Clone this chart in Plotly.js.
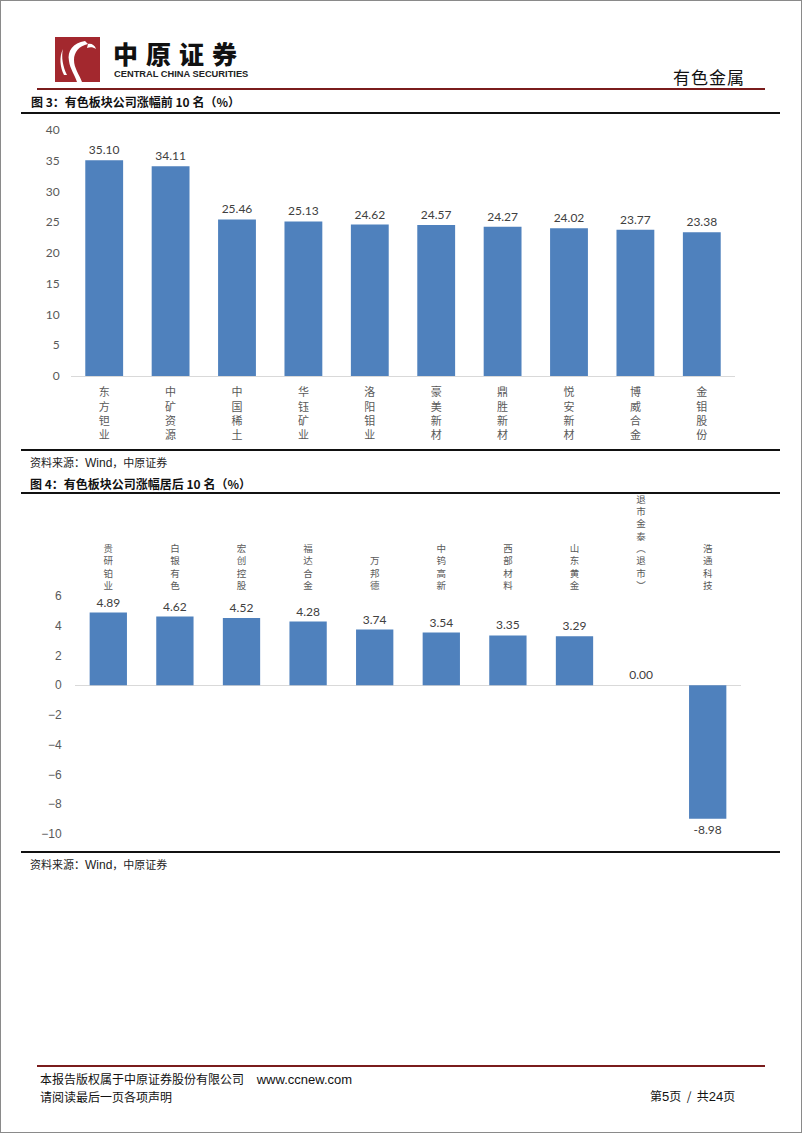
<!DOCTYPE html>
<html><head><meta charset="utf-8">
<script src="https://cdn.plot.ly/plotly-3.0.1.min.js"></script>
<style>
html,body{margin:0;padding:0;background:#fff;}
body{width:802px;height:1133px;position:relative;overflow:hidden;font-family:"Noto Sans CJK SC",sans-serif;}
#frame{position:absolute;left:0;top:0;width:802px;height:1133px;box-sizing:border-box;border:1px solid #8a8a8a;pointer-events:none;z-index:5;}
.abs{position:absolute;white-space:nowrap;}
.redline{position:absolute;height:2px;background:#7a1c1c;}
.blackline{position:absolute;height:2px;background:#111;}
.ttl{font-size:12px;font-weight:bold;color:#111;}
.src{font-size:11px;color:#222;}
#c1{position:absolute;left:0;top:118px;width:802px;height:332px;}
#c2{position:absolute;left:0;top:470px;width:802px;height:380px;}
</style></head>
<body>
<div id="frame"></div>
<svg class="abs" style="left:55px;top:37px;" width="45" height="45" viewBox="0 0 45 45">
 <rect x="0" y="0" width="45" height="45" fill="#a3282e"/>
 <path d="M30 4 C18 6 12 14 14 24 C15 32 20 38 22 45 L27 45 C24 37 19 31 19 23 C19 15 24 9 33 7 Z" fill="#fff"/>
 <path d="M33 7 C36 6 40 8 41 12 C38 10 35 10 32 11 Z" fill="#fff"/>
 <path d="M8 12 C6 20 8 30 12 38 L9 38 C5 30 4 20 8 12 Z" fill="#fff"/>
</svg>
<div class="abs" style="left:113px;top:41px;font-size:25px;font-weight:900;letter-spacing:8px;color:#111;font-family:'Noto Sans CJK SC';line-height:25px;">中原证券</div>
<div class="abs" style="left:114px;top:69px;font-size:9.3px;font-weight:bold;color:#222;font-family:'Liberation Sans';line-height:10px;">CENTRAL CHINA SECURITIES</div>
<div class="abs" style="left:673px;top:64px;font-size:17px;color:#111;letter-spacing:1px;">有色金属</div>
<div class="redline" style="left:37px;top:88px;width:728px;"></div>
<div class="abs ttl" style="left:31px;top:93px;">图 3：有色板块公司涨幅前 10 名（%）</div>
<div class="blackline" style="left:21px;top:112px;width:759px;"></div>

<div id="c1"></div>

<div class="blackline" style="left:21px;top:449px;width:759px;"></div>
<div class="abs src" style="left:30px;top:454px;">资料来源：<span style="font-family:'Liberation Sans';font-size:12px;">Wind</span>，中原证券</div>
<div class="abs ttl" style="left:30px;top:475px;">图 4：有色板块公司涨幅居后 10 名（%）</div>
<div class="blackline" style="left:21px;top:492px;width:759px;"></div>

<div id="c2"></div>

<div class="blackline" style="left:21px;top:851px;width:759px;"></div>
<div class="abs src" style="left:30px;top:856px;">资料来源：<span style="font-family:'Liberation Sans';font-size:12px;">Wind</span>，中原证券</div>

<div class="redline" style="left:37px;top:1065px;width:728px;"></div>
<div class="abs" style="left:40px;top:1070px;font-size:12px;color:#111;">本报告版权属于中原证券股份有限公司 <span style="font-family:'Liberation Sans';font-size:13px;margin-left:10px;">www.ccnew.com</span></div>
<div class="abs" style="left:40px;top:1088px;font-size:12px;color:#111;">请阅读最后一页各项声明</div>
<div class="abs" style="left:650px;top:1087px;font-size:12px;color:#111;">第<span style="font-family:'Liberation Sans';font-size:13px;">5</span>页&nbsp;&nbsp;/&nbsp;&nbsp;共<span style="font-family:'Liberation Sans';font-size:13px;">24</span>页</div>

<script>
// Figure 3: top 10
const top10Names = ["东方钽业","中矿资源","中国稀土","华钰矿业","洛阳钼业","豪美新材","鼎胜新材","悦安新材","博威合金","金钼股份"];
const top10Values = [35.10, 34.11, 25.46, 25.13, 24.62, 24.57, 24.27, 24.02, 23.77, 23.38];
const top10TickVals = [0,5,10,15,20,25,30,35,40];

// Figure 4: bottom 10
const bottom10Names = ["贵研铂业","白银有色","宏创控股","福达合金","万邦德","中钨高新","西部材料","山东黄金","退市金泰(退市)","浩通科技"];
const bottom10Values = [4.89, 4.62, 4.52, 4.28, 3.74, 3.54, 3.35, 3.29, 0.00, -8.98];
const bottom10TickVals = [6,4,2,0,-2,-4,-6,-8,-10];

function vertical(s){
  return s.replace(/\(/g,"\uFE35").replace(/\)/g,"\uFE36").split("").join("<br>");
}
const barColor = "#4f81bd";
const cfg = {displayModeBar:false, staticPlot:true};

Plotly.newPlot("c1", [{
  type:"bar",
  x: top10Names,
  y: top10Values,
  marker:{color:barColor},
  width:0.57,
  text: top10Values.map(v=>v.toFixed(2)),
  textposition:"outside",
  textfont:{family:"Lato, 'Open Sans', sans-serif", size:12, color:"#404040"},
  cliponaxis:false,
  hoverinfo:"skip"
}], {
  width:802, height:332,
  margin:{l:71, r:67, t:12, b:74},
  paper_bgcolor:"rgba(0,0,0,0)", plot_bgcolor:"rgba(0,0,0,0)",
  showlegend:false,
  xaxis:{
    tickmode:"array", tickvals: top10Names, ticktext: top10Names.map(vertical),
    showline:true, linecolor:"#d9d9d9", linewidth:1,
    ticks:"outside", ticklen:6, tickcolor:"rgba(0,0,0,0)",
    tickfont:{family:"'Noto Sans CJK SC'", size:11, color:"#595959"},
    tickangle:0, fixedrange:true
  },
  yaxis:{
    range:[0,40], tickmode:"array", tickvals: top10TickVals,
    showgrid:false, zeroline:false, showline:false,
    ticks:"outside", ticklen:8, tickcolor:"rgba(0,0,0,0)",
    tickfont:{family:"Lato, 'Open Sans', sans-serif", size:12, color:"#595959"}
  }
}, cfg);

Plotly.newPlot("c2", [{
  type:"bar",
  x: bottom10Names,
  y: bottom10Values,
  marker:{color:barColor},
  width:0.56,
  text: bottom10Values.map(v=>v.toFixed(2)),
  textposition:"outside",
  textfont:{family:"Lato, 'Open Sans', sans-serif", size:12, color:"#404040"},
  cliponaxis:false,
  hoverinfo:"skip"
}], {
  width:802, height:380,
  margin:{l:75, r:61, t:126, b:16},
  paper_bgcolor:"rgba(0,0,0,0)", plot_bgcolor:"rgba(0,0,0,0)",
  showlegend:false,
  xaxis:{
    side:"top",
    tickmode:"array", tickvals: bottom10Names, ticktext: bottom10Names.map(vertical),
    showline:false,
    ticks:"outside", ticklen:2, tickcolor:"rgba(0,0,0,0)",
    tickfont:{family:"'Noto Sans CJK SC'", size:9.5, color:"#595959"},
    tickangle:0
  },
  yaxis:{
    range:[-10,6], tickmode:"array", tickvals: bottom10TickVals,
    showgrid:false, zeroline:true, zerolinecolor:"#d9d9d9", zerolinewidth:1, showline:false,
    ticks:"outside", ticklen:10, tickcolor:"rgba(0,0,0,0)",
    tickfont:{family:"'Liberation Sans Narrow', 'Liberation Sans', sans-serif", size:12, color:"#595959"}
  }
}, cfg);
</script>
</body></html>
